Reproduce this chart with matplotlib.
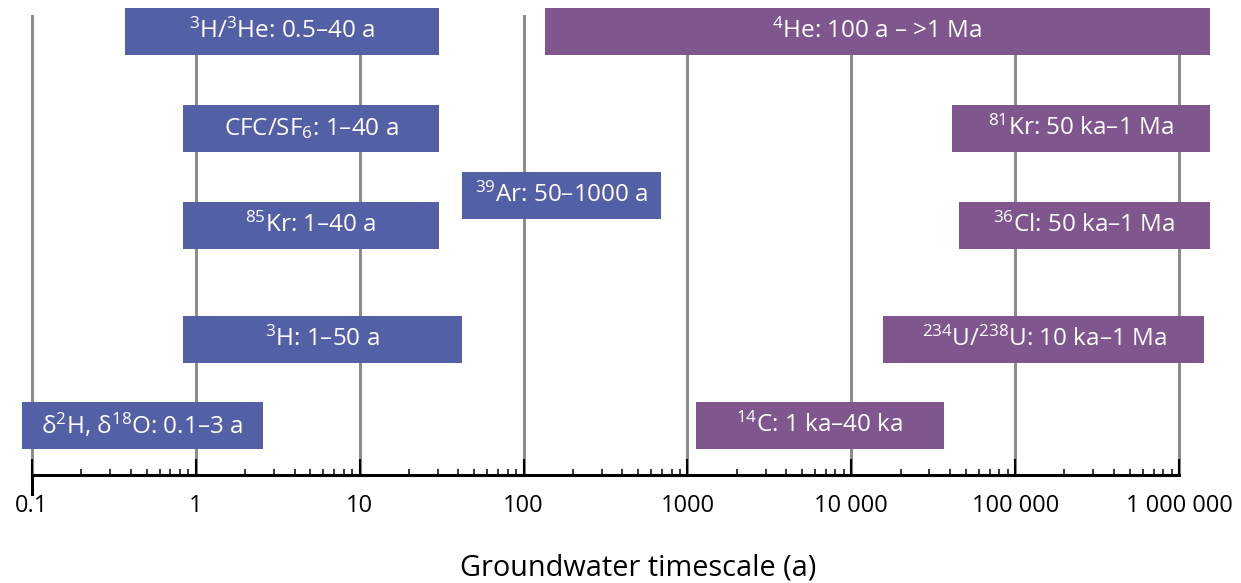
import numpy as np
import matplotlib
matplotlib.use("Agg")
import matplotlib.pyplot as plt
from matplotlib.ticker import FixedLocator, NullFormatter

plt.rcParams['font.family'] = ['Open Sans', 'DejaVu Sans']
plt.rcParams['mathtext.fontset'] = 'custom'
plt.rcParams['mathtext.rm'] = 'Open Sans'
plt.rcParams['mathtext.default'] = 'regular'

# tracer ranges (years), as drawn
labels = [r"$^{3}$H/$^{3}$He: 0.5–40 a",
          r"$^{4}$He: 100 a – >1 Ma",
          r"CFC/SF$_{6}$: 1–40 a",
          r"$^{81}$Kr: 50 ka–1 Ma",
          r"$^{39}$Ar: 50–1000 a",
          r"$^{85}$Kr: 1–40 a",
          r"$^{36}$Cl: 50 ka–1 Ma",
          r"$^{3}$H: 1–50 a",
          r"$^{234}$U/$^{238}$U: 10 ka–1 Ma",
          r"δ$^{2}$H, δ$^{18}$O: 0.1–3 a",
          r"$^{14}$C: 1 ka–40 ka"]
starts = [0.371, 135, 0.835, 41000, 42.3, 0.835, 45200, 0.835, 15700, 0.087, 1120]
ends = [30.3, 1.55e6, 30.3, 1.55e6, 687, 30.3, 1.55e6, 42.3, 1.43e6, 2.56, 37000]
group = ["young", "old", "young", "old", "young", "young", "old", "young", "old", "young", "old"]

tick_vals = [0.1, 1, 10, 100, 1000, 10000, 100000, 1000000]
tick_labels = ["0.1", "1", "10", "100", "1000", "10 000", "100 000", "1 000 000"]

# layout: row centres in pixel rows from the top
row_y = [31.5, 31.5, 128.5, 128.5, 195, 225.5, 225.5, 339.5, 339.5, 425.5, 425.5]
bar_h = 47
colors = {"young": "#5460a6", "old": "#7f578e"}

W, H = 1241, 583
fig = plt.figure(figsize=(W / 100, H / 100), dpi=100)
ax_top, ax_bot = 15, 475
ax = fig.add_axes([0, (H - ax_bot) / H, 1, (ax_bot - ax_top) / H])

dec = 163.86
ax.set_xscale('log')
ax.set_xlim(10 ** (-1 - 32 / dec), 10 ** (-1 + (W - 32) / dec))
ax.set_ylim(ax_bot, ax_top)

for lab, s, e, g, y in zip(labels, starts, ends, group, row_y):
    ax.barh(y, e - s, left=s, height=bar_h, color=colors[g], clip_on=False, zorder=3)
    xm = np.sqrt(s * e)
    ax.text(xm, y, lab, color='white', fontsize=17.5, ha='center', va='center', zorder=4)

for sp in ['top', 'left', 'right']:
    ax.spines[sp].set_visible(False)
ax.spines['bottom'].set_bounds(0.1, 1e6)
ax.spines['bottom'].set_linewidth(2.2)
ax.spines['bottom'].set_zorder(5)

minors = [m * 10.0 ** k for k in range(-1, 6) for m in range(2, 10)]
ax.xaxis.set_major_locator(FixedLocator(tick_vals))
ax.xaxis.set_minor_locator(FixedLocator(minors))
ax.xaxis.set_minor_formatter(NullFormatter())
ax.set_xticklabels(tick_labels)
ax.tick_params(axis='x', which='major', direction='in', length=11.5, width=1.5,
               labelsize=17, pad=14)
ax.tick_params(axis='x', which='minor', direction='in', length=4.3, width=1.1)
ax.set_yticks([])
ax.set_axisbelow(True)
ax.grid(axis='x', which='major', color='#8c8c8c', linewidth=2.2)

# downward tick at the left end of the axis
ax.axvline(0.1, ymin=-19 / (ax_bot - ax_top), ymax=0, color='black', lw=2.2, clip_on=False)

fig.text(638 / W, (H - 568) / H, "Groundwater timescale (a)", fontsize=20.8,
         ha='center', va='center')

fig.savefig("out.png", dpi=100)
